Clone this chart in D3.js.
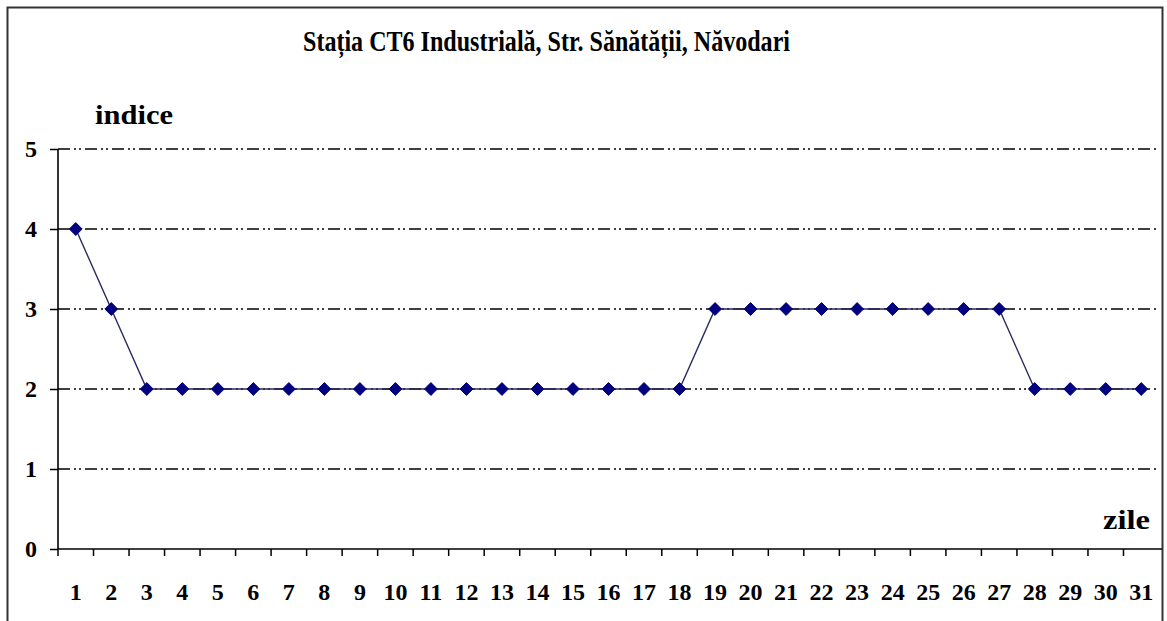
<!DOCTYPE html>
<html>
<head>
<meta charset="utf-8">
<script src="https://cdn.jsdelivr.net/npm/d3@7"></script>
<style>
body { margin:0; background:#fff; }
svg { display:block; }
text { font-family:"Liberation Serif", "DejaVu Serif", serif; font-weight:bold; fill:#000; }
</style>
</head>
<body>
<svg></svg>
<script>
var zile = d3.range(1, 32)
var indice = [4,3,2,2,2,2,2,2,2,2,2,2,2,2,2,2,2,2,3,3,3,3,3,3,3,3,3,2,2,2,2]
var yTicks = [0,1,2,3,4,5]
var gridTicks = [1,2,3,4,5]
var title = "Stația CT6 Industrială, Str. Sănătății, Năvodari"

var screen = {width:1167, height:621}
var margins = {top:149, bottom:72, left:58, right:8}

var svg = d3.select("svg")
    .attr("width", screen.width)
    .attr("height", screen.height)

// outer frame
svg.append("rect")
    .attr("x", 7.5).attr("y", 7.5)
    .attr("width", 1155).attr("height", 640)
    .attr("fill", "none")
    .attr("stroke", "#333")
    .attr("stroke-width", 2)

var width = screen.width - margins.left - margins.right
var height = screen.height - margins.top - margins.bottom

var xScale = d3.scaleBand()
    .domain(zile)
    .range([0, width])
var yScale = d3.scaleLinear()
    .domain([0, 5])
    .range([height, 0])

var graph = svg.append("g").attr("id","graph")
    .attr("transform","translate("+margins.left+","+margins.top+")")

// dash-dot-dot gridlines
graph.selectAll(".grid")
    .data(gridTicks)
    .enter()
    .append("line")
    .attr("class","grid")
    .attr("x1", 0)
    .attr("x2", width - 2)
    .attr("y1", function(d){ return yScale(d) })
    .attr("y2", function(d){ return yScale(d) })
    .attr("stroke", "#000")
    .attr("stroke-width", 1.4)
    .attr("stroke-dasharray", "12,4,2,3,2,4")

// y axis
var yAxis = d3.axisLeft(yScale).tickValues(yTicks).tickSize(8).tickPadding(13).tickFormat(d3.format("d"))
var yG = graph.append("g").attr("id","yAxis").call(yAxis)
yG.select(".domain").attr("stroke-width", 1.6).attr("d", "M0,0V" + height)
yG.selectAll(".tick line").attr("stroke-width", 1.5)
yG.selectAll(".tick text").attr("style", "font-size:24px")

// x axis: labels centered in bands
var xAxis = d3.axisBottom(xScale).tickSize(0).tickPadding(34)
var xG = graph.append("g").attr("id","xAxis")
    .attr("transform","translate(0,"+height+")")
    .call(xAxis)
xG.select(".domain").attr("stroke-width", 1.6).attr("d", "M0,0H" + (width + 3))
xG.selectAll(".tick text").attr("style", "font-size:24px")

// category boundary ticks
graph.append("g").attr("id","xTicks")
    .selectAll("line")
    .data(zile)
    .enter()
    .append("line")
    .attr("x1", function(d){ return xScale(d) })
    .attr("x2", function(d){ return xScale(d) })
    .attr("y1", height)
    .attr("y2", height + 7)
    .attr("stroke", "#000")
    .attr("stroke-width", 1.5)

// series line
var line = d3.line()
    .x(function(d, i){ return xScale(zile[i]) + xScale.bandwidth()/2 })
    .y(function(d){ return yScale(d) })

graph.append("path")
    .datum(indice)
    .attr("d", line)
    .attr("fill", "none")
    .attr("stroke", "#2a2a5e")
    .attr("stroke-width", 1.4)

graph.selectAll(".pt")
    .data(indice)
    .enter()
    .append("path")
    .attr("class","pt")
    .attr("d", d3.symbol().type(d3.symbolDiamond2).size(105))
    .attr("transform", function(d, i){
        return "translate("+(xScale(zile[i]) + xScale.bandwidth()/2)+","+yScale(d)+")"
    })
    .attr("fill", "#000080")
    .attr("stroke", "#000080")
    .attr("stroke-width", 1)

// titles
svg.append("text")
    .attr("x", 303).attr("y", 51)
    .attr("textLength", 487).attr("lengthAdjust", "spacingAndGlyphs")
    .style("font-size", "29px")
    .text(title)

svg.append("text")
    .attr("x", 95).attr("y", 124)
    .attr("textLength", 78).attr("lengthAdjust", "spacingAndGlyphs")
    .style("font-size", "28px")
    .text("indice")

svg.append("text")
    .attr("x", 1103).attr("y", 529)
    .attr("textLength", 47).attr("lengthAdjust", "spacingAndGlyphs")
    .style("font-size", "28px")
    .text("zile")
</script>
</body>
</html>
